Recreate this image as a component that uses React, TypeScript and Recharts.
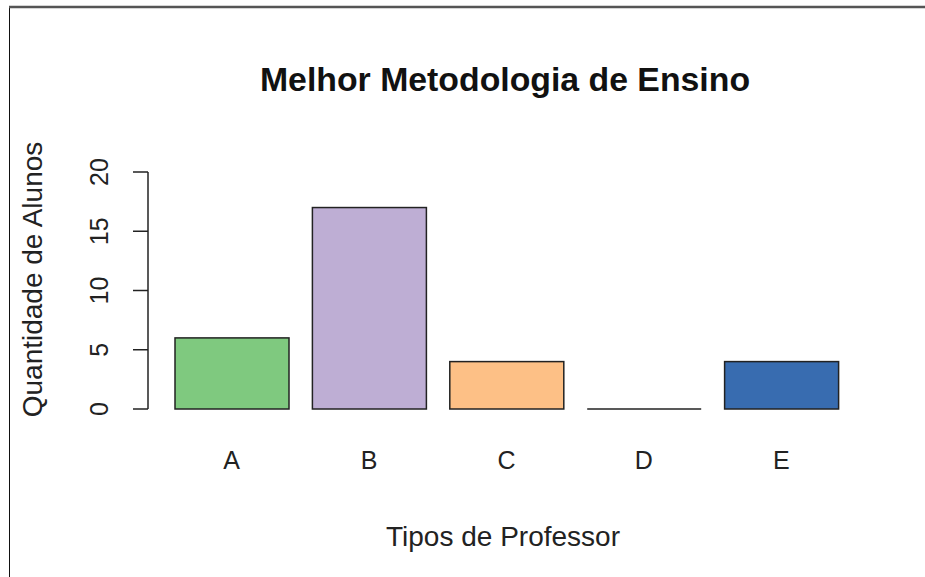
import { BarChart, Bar, XAxis, YAxis, Cell, Label } from 'recharts';

const professores = ['A', 'B', 'C', 'D', 'E'];
const alunos = [6, 17, 4, 0, 4];
const cores = ['#7FC97F', '#BEAED4', '#FDC086', '#FFFF99', '#386CB0'];
const yTicks = [0, 5, 10, 15, 20];

const data = professores.map((p, i) => ({ tipo: p, qtd: alunos[i] }));

const font = '"Liberation Sans", Arial, Helvetica, sans-serif';

function BarShape(props: any) {
  const { x, y, width, height, fill } = props;
  if (!height) {
    // zero-height bar: R still draws the outline as a flat line
    return <line x1={x} x2={x + width} y1={y} y2={y} stroke="#222" strokeWidth={1.5} />;
  }
  return <rect x={x} y={y} width={width} height={height} fill={fill} stroke="#222" strokeWidth={1.5} />;
}

function YTick({ x, y, payload }: any) {
  const bx = x - 25;
  return (
    <text x={bx} y={y} transform={`rotate(-90, ${bx}, ${y})`} textAnchor="middle"
      fontSize={25} fontFamily={font} fill="#222">
      {payload.value}
    </text>
  );
}

function XTick({ x, y, payload }: any) {
  return (
    <text x={x} y={y + 60} textAnchor="middle" fontSize={25} fontFamily={font} fill="#222">
      {payload.value}
    </text>
  );
}

export default function App() {
  return (
    <div style={{ position: 'absolute', left: 0, top: 0, width: 925, height: 577, background: '#fff', overflow: 'hidden' }}>
      <svg width={925} height={577} style={{ position: 'absolute', left: 0, top: 0 }}>
        <line x1={9.5} x2={9.5} y1={7} y2={577} stroke="#111" strokeWidth={1} />
        <line x1={9} x2={925} y1={7} y2={7} stroke="#555" strokeWidth={2.5} />
      </svg>
      <div style={{ position: 'absolute', left: 0, top: 0 }}>
        <BarChart width={925} height={577} data={data}
          margin={{ top: 172, right: 75, bottom: 108, left: 48 }} barSize={114}>
          <XAxis dataKey="tipo" axisLine={false} tickLine={false} tickSize={0} tickMargin={0}
            height={60} padding={{ left: 15, right: 0 }} tick={<XTick />} interval={0}>
            <Label content={({ viewBox }: any) => (
              <text x={viewBox.x + viewBox.width / 2 + 4} y={546} textAnchor="middle"
                fontSize={28} fontFamily={font} fill="#222">
                Tipos de Professor
              </text>
            )} />
          </XAxis>
          <YAxis domain={[0, 20]} ticks={yTicks} width={100} tickSize={15} tickMargin={0}
            axisLine={{ stroke: '#222', strokeWidth: 1.5 }} tickLine={{ stroke: '#222', strokeWidth: 1.5 }}
            tick={<YTick />} interval={0}>
            <Label content={({ viewBox }: any) => {
              const cy = viewBox.y + viewBox.height / 2 - 11;
              return (
                <text x={42} y={cy} transform={`rotate(-90, 42, ${cy})`} textAnchor="middle"
                  fontSize={28} fontFamily={font} fill="#222">
                  Quantidade de Alunos
                </text>
              );
            }} />
          </YAxis>
          <Bar dataKey="qtd" isAnimationActive={false} shape={<BarShape />}>
            {data.map((d, i) => (
              <Cell key={d.tipo} fill={cores[i]} />
            ))}
          </Bar>
        </BarChart>
      </div>
      <svg width={925} height={120} style={{ position: 'absolute', left: 0, top: 0, pointerEvents: 'none' }}>
        <text x={505} y={91} textAnchor="middle" fontSize={33.8} fontWeight="bold" fontFamily={font} fill="#111">
          Melhor Metodologia de Ensino
        </text>
      </svg>
    </div>
  );
}
